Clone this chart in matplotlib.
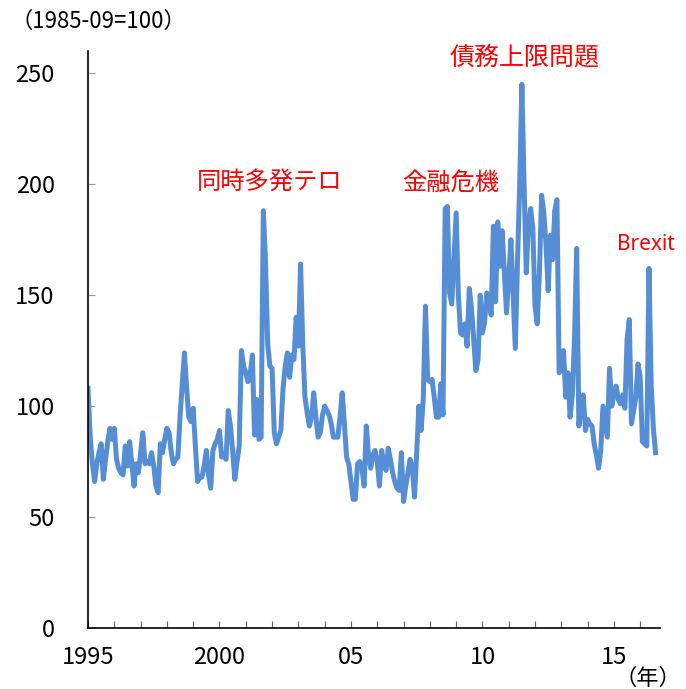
import numpy as np
import matplotlib
matplotlib.use("Agg")
import matplotlib.pyplot as plt

# 月次指数 (1985-09=100)、1995年1月〜2016年8月
v1995 = [108, 86, 74, 66, 74, 79, 83, 67, 76, 84, 90, 85]
v1996 = [90, 76, 72, 70, 69, 82, 73, 84, 74, 64, 74, 70]
v1997 = [79, 88, 74, 75, 74, 79, 73, 64, 61, 83, 79, 85]
v1998 = [90, 88, 79, 74, 76, 77, 95, 110, 124, 108, 95, 93]
v1999 = [99, 82, 66, 68, 68, 73, 80, 69, 63, 80, 83, 85]
v2000 = [89, 77, 78, 76, 98, 91, 80, 67, 75, 82, 125, 118]
v2001 = [115, 111, 114, 123, 87, 103, 85, 86, 188, 165, 128, 118]
v2002 = [117, 88, 83, 86, 89, 108, 118, 124, 113, 123, 121, 140]
v2003 = [127, 164, 128, 104, 97, 91, 95, 106, 95, 86, 88, 96]
v2004 = [100, 98, 96, 92, 86, 86, 86, 95, 106, 92, 77, 74]
v2005 = [66, 58, 58, 74, 75, 72, 64, 91, 78, 72, 78, 80]
v2006 = [75, 64, 80, 74, 71, 81, 76, 70, 66, 63, 62, 79]
v2007 = [57, 64, 70, 76, 72, 59, 80, 100, 89, 103, 145, 112]
v2008 = [111, 112, 104, 95, 95, 110, 96, 189, 190, 151, 146, 166]
v2009 = [187, 150, 133, 132, 137, 127, 153, 144, 130, 116, 121, 150]
v2010 = [133, 138, 151, 148, 141, 181, 147, 183, 163, 179, 160, 142]
v2011 = [158, 175, 150, 126, 165, 200, 245, 200, 160, 182, 189, 180]
v2012 = [145, 137, 160, 195, 187, 173, 152, 177, 166, 188, 193, 115]
v2013 = [118, 125, 104, 115, 95, 105, 130, 171, 91, 100, 105, 89]
v2014 = [94, 92, 91, 83, 78, 72, 80, 100, 93, 86, 117, 100]
v2015 = [105, 109, 103, 101, 105, 99, 130, 139, 92, 98, 104, 119]
v2016 = [113, 84, 83, 82, 162, 110, 90, 79]

tick_years = list(range(1995, 2017))
tick_labels = {1995: "1995", 2000: "2000", 2005: "05", 2010: "10", 2015: "15"}

# イベント注記
events = ["同時多発テロ", "金融危機", "債務上限問題", "Brexit"]

values = (v1995 + v1996 + v1997 + v1998 + v1999 + v2000 + v2001 + v2002
          + v2003 + v2004 + v2005 + v2006 + v2007 + v2008 + v2009 + v2010
          + v2011 + v2012 + v2013 + v2014 + v2015 + v2016)
t = 1995 + np.arange(len(values)) / 12.0

num_font = ["Liberation Sans Narrow", "Noto Sans CJK JP", "DejaVu Sans"]
jp_font = ["Noto Sans CJK JP", "DejaVu Sans"]

fig = plt.figure(figsize=(6.86, 6.89), dpi=100)
ax = fig.add_axes([0.1283, 0.0885, 0.962 - 0.1283, 0.926 - 0.0885])

ax.plot(t, values, color="#558ED5", lw=3.6, solid_joinstyle="round")

ax.set_xlim(1995, 1995 + 261 / 12.0)
ax.set_ylim(0, 260)

ax.spines["top"].set_visible(False)
ax.spines["right"].set_visible(False)
ax.spines["left"].set_linewidth(1.2)
ax.spines["bottom"].set_linewidth(1.2)

ax.set_yticks([0, 50, 100, 150, 200, 250])
ax.tick_params(axis="y", direction="in", length=5, color="#999999",
               pad=24, labelsize=17)
ax.set_xticks(tick_years)
ax.set_xticklabels([tick_labels.get(y, "") for y in tick_years])
ax.tick_params(axis="x", direction="in", length=5, color="#666666",
               pad=13, labelsize=17)
for lab in ax.get_xticklabels() + ax.get_yticklabels():
    lab.set_family(num_font)

fig.text(10 / 686, 1 - 21 / 689, "（1985-09=100）", family=num_font,
         fontsize=16, va="center", ha="left")
fig.text(648 / 686, 1 - 678 / 689, "（年）", family=jp_font,
         fontsize=16, va="center", ha="center")

ax.text(2001.9, 201, events[0], family=jp_font, fontsize=17.5,
        color="red", ha="center", va="center")
ax.text(2008.8, 200, events[1], family=jp_font, fontsize=17.5,
        color="red", ha="center", va="center")
ax.text(2011.6, 257, events[2], family=jp_font, fontsize=18,
        color="red", ha="center", va="center")
ax.text(2016.2, 173, events[3], family=["Noto Sans", "DejaVu Sans"],
        fontsize=15, color="red", ha="center", va="center")

fig.savefig("out.png", dpi=100)
